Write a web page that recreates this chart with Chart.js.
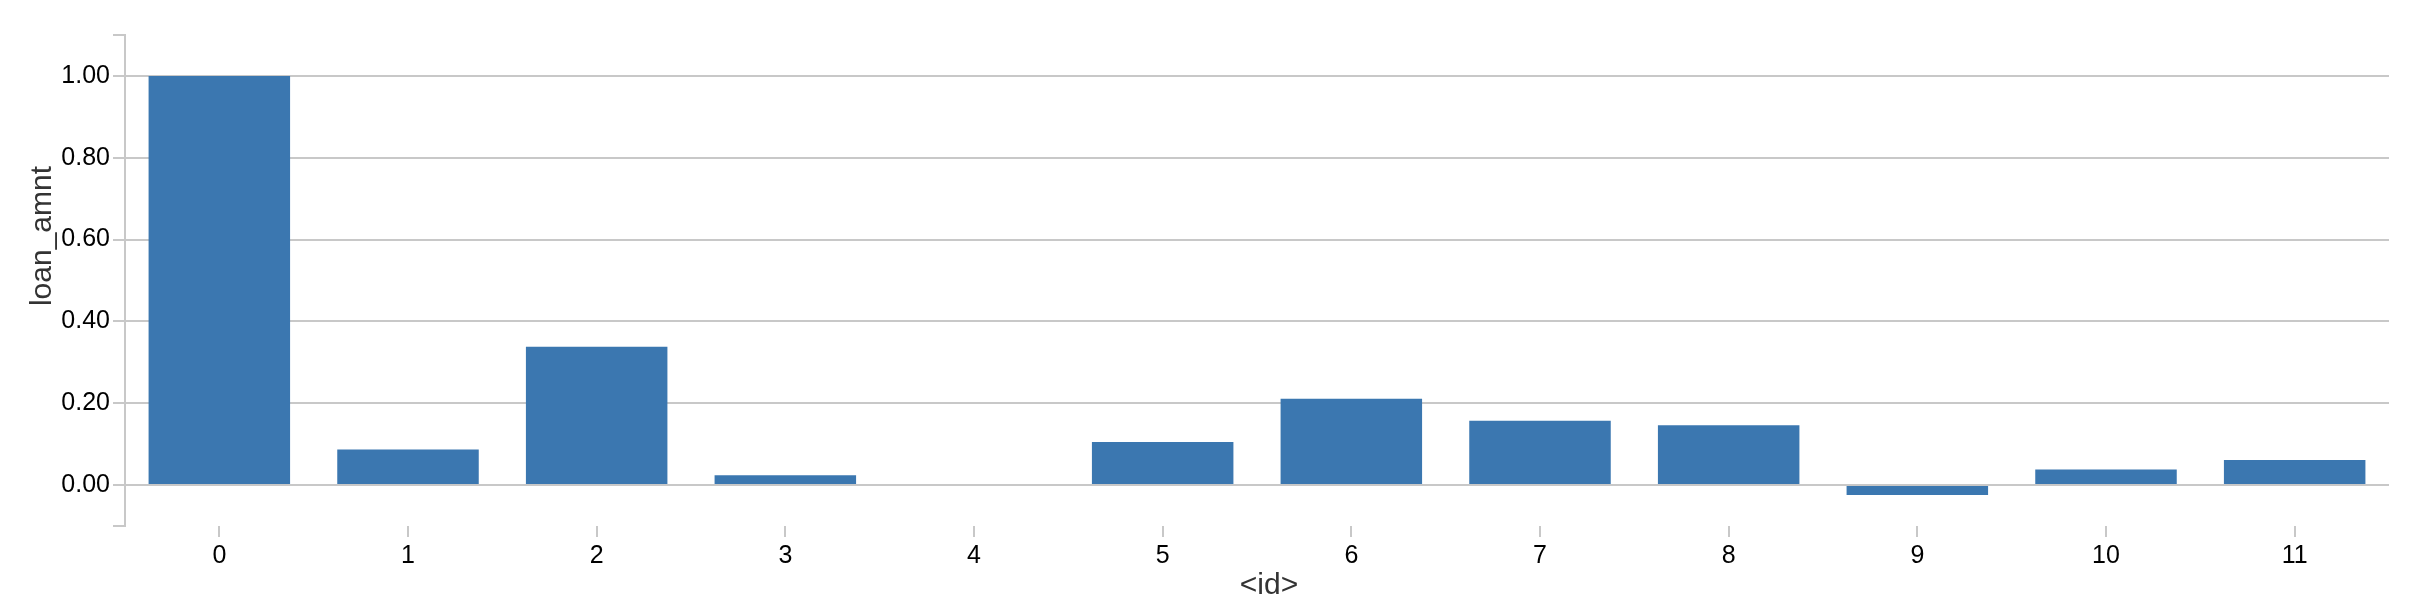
<!DOCTYPE html>
<html>
<head>
<meta charset="utf-8">
<script src="https://cdn.jsdelivr.net/npm/chart.js@4"></script>
<style>
  html, body { margin: 0; padding: 0; background: #fff; }
  #wrap { width: 2426px; height: 608px; }
</style>
</head>
<body>
<div id="wrap"><canvas id="chart" width="2426" height="608"></canvas></div>
<script>
// categories and values
const ids = ['0', '1', '2', '3', '4', '5', '6', '7', '8', '9', '10', '11'];
const loanAmnt = [1.0, 0.087, 0.338, 0.024, -0.002, 0.105, 0.211, 0.157, 0.146, -0.024, 0.038, 0.061];
const yTicks = [0, 0.2, 0.4, 0.6, 0.8, 1.0];
const yMin = -0.1;
const yMax = 1.1;

const FONT = '"Liberation Sans", Arial, Helvetica, sans-serif';
const GRID = '#c8c8c8';

// axis titles drawn by hand so they sit where the reference has them
const axisTitles = {
  id: 'axisTitles',
  afterDraw(chart) {
    const ctx = chart.ctx;
    const area = chart.chartArea;
    ctx.save();
    ctx.font = '30px ' + FONT;
    ctx.fillStyle = '#333';
    ctx.textAlign = 'center';
    ctx.textBaseline = 'alphabetic';
    ctx.fillText('<id>', (area.left + area.right) / 2 + 12, 594);
    ctx.translate(51, 236);
    ctx.rotate(-Math.PI / 2);
    ctx.fillText('loan_amnt', 0, 0);
    ctx.restore();
  }
};

new Chart('chart', {
  type: 'bar',
  data: {
    labels: ids,
    datasets: [{
      label: 'loan_amnt',
      data: loanAmnt,
      backgroundColor: '#3b77b0',
      borderWidth: 0,
      categoryPercentage: 1,
      barPercentage: 0.75
    }]
  },
  options: {
    responsive: false,
    animation: false,
    layout: { padding: { top: 35, right: 37, left: 0, bottom: 0 } },
    plugins: {
      legend: { display: false },
      tooltip: { enabled: false }
    },
    scales: {
      x: {
        offset: true,
        border: { display: false },
        grid: {
          offset: false,
          drawOnChartArea: false,
          drawTicks: true,
          tickLength: 11,
          color: GRID,
          lineWidth: 2
        },
        ticks: {
          color: '#000',
          padding: 4,
          maxRotation: 0,
          font: { family: FONT, size: 25 }
        },
        afterFit(scale) { scale.height = 82; }
      },
      y: {
        min: yMin,
        max: yMax,
        border: { display: true, color: GRID, width: 2 },
        afterBuildTicks(scale) {
          scale.ticks = [yMin].concat(yTicks, [yMax]).map((v) => ({ value: v }));
        },
        grid: {
          color: (c) => (c.tick && yTicks.includes(Math.round(c.tick.value * 100) / 100) ? GRID : 'rgba(0,0,0,0)'),
          tickColor: GRID,
          lineWidth: 2,
          tickLength: 12
        },
        ticks: {
          color: '#000',
          padding: 3,
          font: { family: FONT, size: 25 },
          callback: (v) => (yTicks.includes(Math.round(v * 100) / 100) ? Number(v).toFixed(2) : '')
        },
        afterFit(scale) { scale.width = 125; }
      }
    }
  },
  plugins: [axisTitles]
});
</script>
</body>
</html>
